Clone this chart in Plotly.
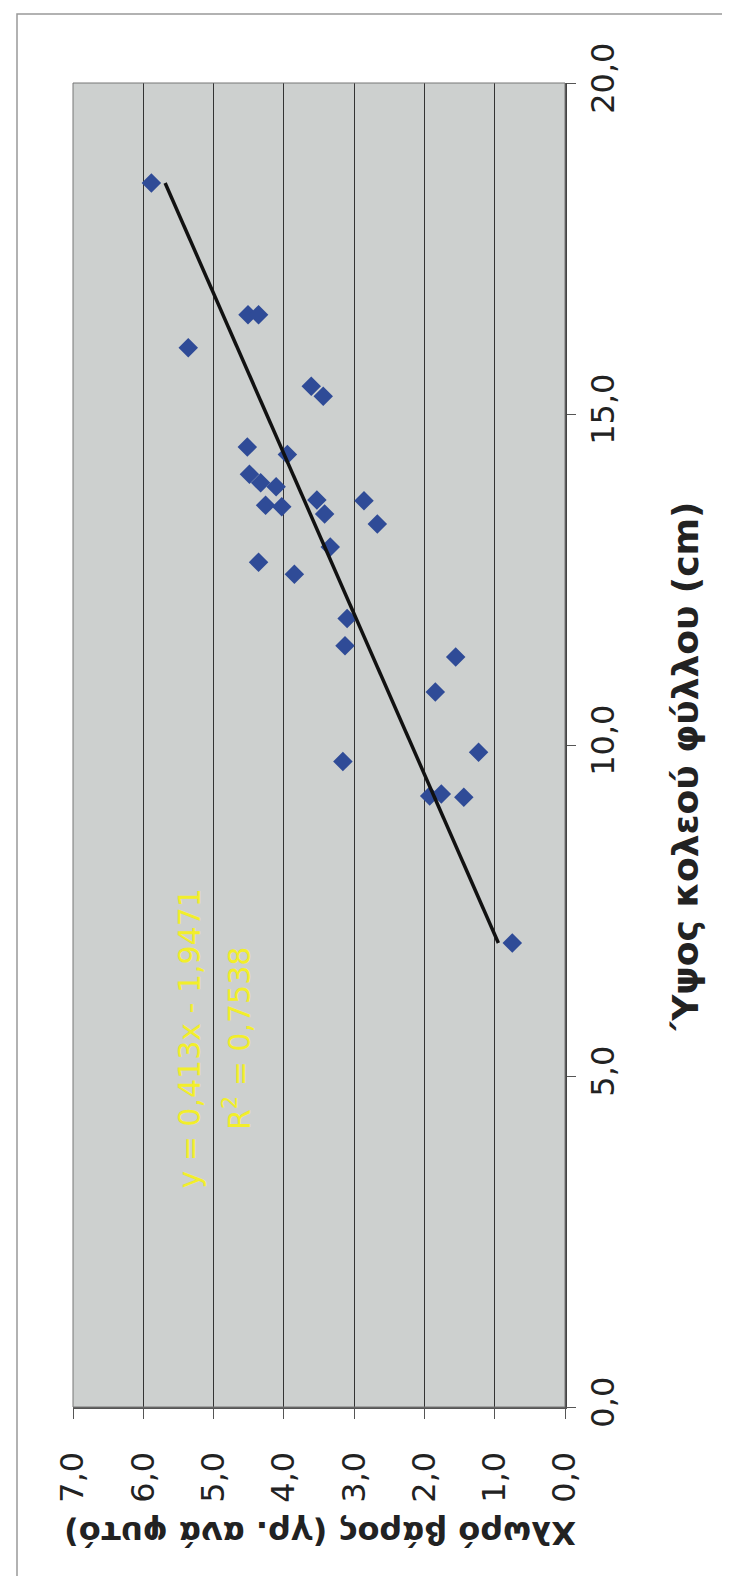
import plotly.graph_objects as go

# Data read from the (rotated) reference chart
height_cm = [18.49, 16.5, 16.5, 16.0, 15.42, 15.27, 14.5, 14.39, 14.09, 13.96,
             13.9, 13.62, 13.6, 13.7, 13.49, 13.69, 13.34, 12.99, 12.76, 12.58,
             11.91, 11.5, 11.33, 10.80, 9.75, 9.89, 9.23, 9.26, 9.21, 7.01]
weight_g = [5.885, 4.51, 4.36, 5.36, 3.61, 3.44, 4.52, 3.95, 4.49, 4.33,
            4.11, 4.26, 4.03, 3.53, 3.42, 2.86, 2.67, 3.34, 4.36, 3.85,
            3.10, 3.13, 1.555, 1.845, 3.16, 1.23, 1.925, 1.76, 1.44, 0.75]

slope = 0.413
intercept = -1.9471
eq_text = "y = 0,413x - 1,9471"
r2_text = "R<sup>2</sup> = 0,7538"

weight_ticks = [0, 1, 2, 3, 4, 5, 6, 7]
height_ticks = [0, 5, 10, 15, 20]

x_title = "Ύψος κολεού φύλλου (cm)"
y_title = "Χλωρό βάρος (γρ. ανά φυτό)"

FONT = "DejaVu Sans"

fig = go.Figure()
fig.add_trace(go.Scatter(
    x=weight_g, y=height_cm, mode="markers",
    marker=dict(symbol="diamond", size=15, color="#2f4b97"),
    showlegend=False, hoverinfo="skip"))

hmin, hmax = min(height_cm), max(height_cm)
fig.add_trace(go.Scatter(
    x=[slope * hmin + intercept, slope * hmax + intercept], y=[hmin, hmax],
    mode="lines", line=dict(color="#111111", width=3.5),
    showlegend=False, hoverinfo="skip"))

fig.update_layout(
    width=730, height=1576, autosize=False,
    margin=dict(l=65, r=173, t=75, b=177),
    paper_bgcolor="white", plot_bgcolor="#cdd0cf",
    separators=",.",
    showlegend=False,
    font=dict(family=FONT, color="#222222"),
    xaxis=dict(
        range=[7, 0], tickvals=weight_ticks, tickformat=".1f", tickangle=-90,
        showgrid=True, gridcolor="#333333", gridwidth=1,
        ticks="outside", ticklen=10, tickcolor="#555555", tickwidth=1,
        showline=True, linecolor="#555555", linewidth=2, zeroline=False,
        ticklabelstandoff=20,
        tickfont=dict(family=FONT, size=32, color="#222222"),
    ),
    yaxis=dict(
        range=[0, 20], tickvals=height_ticks, tickformat=".1f", tickangle=-90,
        side="right", showgrid=False, zeroline=False,
        ticks="outside", ticklen=9, tickcolor="#555555", tickwidth=1,
        showline=True, linecolor="#444444", linewidth=2,
        ticklabelstandoff=0,
        tickfont=dict(family=FONT, size=32, color="#222222"),
    ),
)

# plot-area border
fig.add_shape(type="rect", xref="paper", yref="paper", x0=0, x1=1, y0=0, y1=1,
              line=dict(color="#777777", width=1), layer="above")
# outer frame (left and top edges visible)
fig.add_shape(type="rect", xref="paper", yref="paper",
              x0=(9 - 65) / 492, x1=(760 - 65) / 492,
              y0=(1399 - 1600) / 1324, y1=(1399 - 6) / 1324,
              line=dict(color="#999999", width=1.5))

# axis titles (rotated like the reference)
fig.add_annotation(text="<b>" + x_title + "</b>", xref="paper", yref="paper",
                   x=(677 - 65) / 492, y=(1399 - 758) / 1324, showarrow=False,
                   xanchor="center", yanchor="middle",
                   textangle=-90, font=dict(family=FONT, size=36, color="#222222"))
fig.add_annotation(text="<b>" + y_title + "</b>", xref="paper", yref="paper",
                   x=(312 - 65) / 492, y=(1399 - 1525) / 1324, showarrow=False,
                   xanchor="center", yanchor="middle",
                   textangle=180, font=dict(family=FONT, size=32, color="#222222"))

# trendline equation
fig.add_annotation(text=eq_text, x=5.34, y=5.56, showarrow=False, textangle=-90,
                   xanchor="center", yanchor="middle",
                   font=dict(family=FONT, size=30, color="#f2ee2a"))
fig.add_annotation(text=r2_text, x=4.65, y=5.56, showarrow=False, textangle=-90,
                   xanchor="center", yanchor="middle",
                   font=dict(family=FONT, size=30, color="#f2ee2a"))

fig.write_html("out.html")
